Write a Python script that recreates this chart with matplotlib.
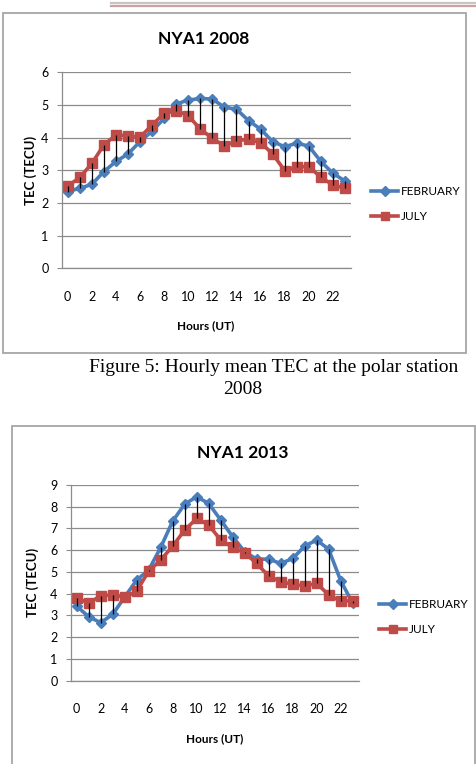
import numpy as np
import matplotlib.pyplot as plt
from matplotlib.patches import Rectangle
from matplotlib.lines import Line2D

# ------------------------------------------------
# data (TECU per hour)
# ------------------------------------------------
hours = np.arange(24)
xtick_hours = np.arange(0, 24, 2)

feb_2008 = [2.35, 2.45, 2.57, 2.96, 3.27, 3.50, 3.88, 4.20, 4.59, 5.03, 5.15, 5.20,
            5.18, 4.93, 4.87, 4.52, 4.26, 3.88, 3.72, 3.83, 3.74, 3.27, 2.91, 2.67]
jul_2008 = [2.52, 2.78, 3.21, 3.78, 4.08, 4.06, 4.01, 4.39, 4.74, 4.83, 4.67, 4.26,
            3.98, 3.74, 3.91, 3.95, 3.85, 3.50, 2.99, 3.11, 3.11, 2.79, 2.55, 2.45]

feb_2013 = [3.43, 2.94, 2.67, 3.05, 3.85, 4.63, 5.09, 6.13, 7.34, 8.12, 8.46, 8.15,
            7.39, 6.62, 5.93, 5.59, 5.59, 5.39, 5.62, 6.19, 6.47, 6.04, 4.60, 3.56]
jul_2013 = [3.82, 3.56, 3.91, 3.94, 3.83, 4.12, 5.04, 5.55, 6.19, 6.93, 7.46, 7.16,
            6.47, 6.13, 5.88, 5.39, 4.81, 4.55, 4.44, 4.35, 4.48, 3.94, 3.66, 3.68]

W, H = 476, 764
BLUE = "#4a7ebb"
RED = "#be4b48"
GRID = "#8c8c8c"
FONT = "Lato"


def fx(px):
    return px / W


def fy(py):
    return 1 - py / H


def make_chart(fig, box, feb, jul, ymax, title, title_xy, ylab_x, xlab_xy, leg_xy):
    l, t, r, b = box
    ax = fig.add_axes([fx(l), fy(b), fx(r - l), (b - t) / H])
    ax.plot(hours, feb, color=BLUE, lw=2.6, marker="D", ms=5.5, zorder=2,
            label="FEBRUARY")
    ax.plot(hours, jul, color=RED, lw=2.6, marker="s", ms=7.5, zorder=2,
            label="JULY")
    # high-low lines between the two series
    ax.vlines(hours, np.minimum(feb, jul), np.maximum(feb, jul),
              color="black", lw=0.9, zorder=3)

    ax.set_xlim(-0.5, 23.5)
    ax.set_ylim(0, ymax)
    ax.set_yticks(np.arange(0, ymax + 1, 1))
    ax.set_xticks(xtick_hours)
    ax.yaxis.grid(True, color=GRID, lw=0.9)
    ax.set_axisbelow(True)
    for s in ["top", "right"]:
        ax.spines[s].set_visible(False)
    for s in ["left", "bottom"]:
        ax.spines[s].set_color(GRID)
        ax.spines[s].set_linewidth(0.9)
    ax.tick_params(axis="y", length=3.5, color=GRID, pad=6, labelsize=9)
    ax.tick_params(axis="x", length=0, pad=16, labelsize=9)
    for lab in ax.get_xticklabels() + ax.get_yticklabels():
        lab.set_fontfamily(FONT)

    fig.text(fx(title_xy[0]), fy(title_xy[1]), title, ha="center", va="center",
             fontsize=12.5, fontweight="bold", family=FONT)
    fig.text(fx(ylab_x), fy((t + b) / 2), "TEC (TECU)", rotation=90,
             ha="center", va="center", fontsize=9.5, fontweight="bold", family=FONT)
    fig.text(fx(xlab_xy[0]), fy(xlab_xy[1]), "Hours (UT)", ha="center",
             va="center", fontsize=8.5, fontweight="bold", family=FONT)

    ax.legend(loc="center left", bbox_to_anchor=(fx(leg_xy[0]), fy(leg_xy[1])),
              bbox_transform=fig.transFigure, frameon=False,
              prop={"family": FONT, "size": 8.5}, handlelength=2.3,
              handletextpad=0.25, labelspacing=1.2, borderaxespad=0,
              borderpad=0, markerscale=0.85)
    return ax


fig = plt.figure(figsize=(W / 100, H / 100), dpi=100)

# chart frames and page header rule
fig.patches.append(Rectangle((fx(3), fy(353)), fx(463), 340 / H, transform=fig.transFigure,
                             fill=False, edgecolor="#a6a6a6", lw=1.3))
fig.patches.append(Rectangle((fx(12), fy(790)), fx(463), 364 / H, transform=fig.transFigure,
                             fill=False, edgecolor="#a6a6a6", lw=1.3))
fig.lines.append(Line2D([fx(111), 1], [fy(3), fy(3)], transform=fig.transFigure,
                        color="#c8c4c0", lw=1.6))
fig.lines.append(Line2D([fx(111), 1], [fy(5.5), fy(5.5)], transform=fig.transFigure,
                        color="#c9a3a3", lw=1.6))

make_chart(fig, (61.7, 72.3, 351, 268.3), feb_2008, jul_2008, 6, "NYA1 2008",
           (204, 39), 31, (206, 326), (371, 204))
make_chart(fig, (70.7, 485, 358.7, 680.7), feb_2013, jul_2013, 9, "NYA1 2013",
           (242.5, 453), 33, (215, 739), (379, 617))

fig.text(fx(274), fy(367), "Figure 5: Hourly mean TEC at the polar station",
         ha="center", va="center", fontsize=14, family="Liberation Serif")
fig.text(fx(243), fy(390), "2008", ha="center", va="center", fontsize=14,
         family="Liberation Serif")

fig.savefig("out.png", dpi=100)
